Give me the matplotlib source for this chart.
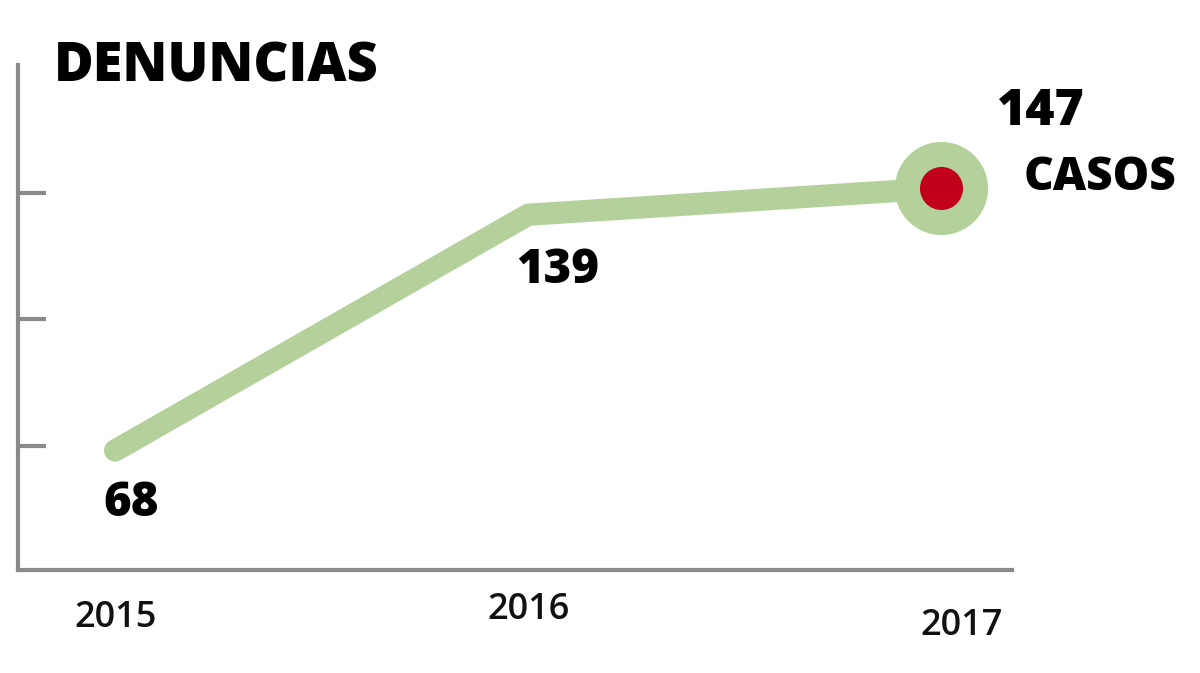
import matplotlib
matplotlib.use("Agg")
import matplotlib.pyplot as plt

years = [2015, 2016, 2017]
values = [68, 139, 147]
labels = ["68", "139", "147"]
year_labels = ["2015", "2016", "2017"]

fig = plt.figure(figsize=(12, 6.73), dpi=100)
ax = fig.add_axes([0.015, 0.153, 0.828, 0.750])
ax.set_xlim(2014.765, 2017.17)
ax.set_ylim(32, 184)

green = "#b4d09b"
ax.plot(years, values, color=green, lw=16, solid_capstyle="round", solid_joinstyle="round", zorder=2)
ax.plot(years[-1], values[-1], "o", ms=66, color=green, zorder=3)
ax.plot(years[-1], values[-1], "o", ms=30, color="#c3001c", zorder=4)

for s in ["top", "right"]:
    ax.spines[s].set_visible(False)
for s in ["left", "bottom"]:
    ax.spines[s].set_color("#8a8a8a")
    ax.spines[s].set_linewidth(3)
ax.set_yticks([69.5, 107.5, 145.5])
ax.set_yticklabels([])
ax.tick_params(axis="y", direction="in", length=20, width=3, color="#8a8a8a")
ax.set_xticks([])

font = "Open Sans"
for x, t, y in zip(years, year_labels, [-0.095, -0.08, -0.11]):
    ax.text(x + (0.05 if x == 2017 else 0), y, t, transform=ax.get_xaxis_transform(),
            ha="center", va="center", fontsize=26, weight="semibold", family=font, color="#111")

ax.text(2015 + 0.04, 52, labels[0], ha="center", va="center", fontsize=34, weight="heavy", family=font)
ax.text(2016 + 0.07, 122, labels[1], ha="center", va="center", fontsize=34, weight="heavy", family=font)
ax.text(2017 + 0.24, 170, labels[2], ha="center", va="center", fontsize=36, weight="heavy", family=font)
ax.text(2017 + 0.20, 150, "CASOS", ha="left", va="center", fontsize=33, weight="heavy", family=font)
fig.text(0.045, 0.90, "DENUNCIAS", ha="left", va="center", fontsize=39, weight="heavy", family=font)

fig.savefig("out.png", dpi=100)
